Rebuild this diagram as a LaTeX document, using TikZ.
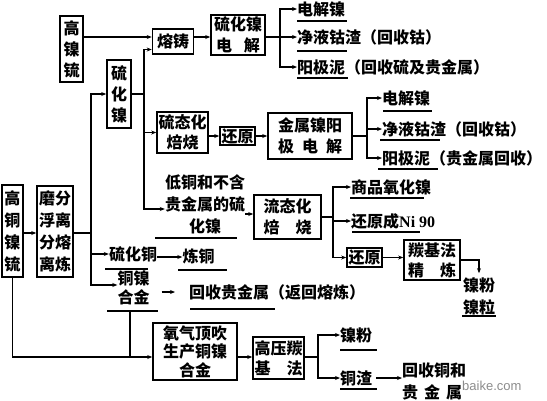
\documentclass[tikz,border=0pt]{standalone}
\usepackage{fontspec}
\setmainfont{Noto Sans CJK SC}
\newfontfamily\lat{Liberation Serif}
\newfontfamily\wmfont{Liberation Sans}
\usetikzlibrary{arrows.meta}
\begin{document}
\begin{tikzpicture}[x=1pt,y=-1pt,
  font=\fontsize{16}{21}\selectfont\bfseries,
  bx/.style={draw,line width=1.6pt,inner sep=0pt,align=center},
  ln/.style={line width=1.1pt},
  arr/.style={ln,-{Stealth[length=5pt,width=4pt]}},
  tx/.style={inner sep=0pt,anchor=west},
  ct/.style={inner sep=0pt,align=center},
  ul/.style={line width=1.1pt}]
\useasboundingbox (0,0) rectangle (547,400);

% boxes
\node[bx,minimum width=23pt,minimum height=66pt] (gnl) at (71.5,49) {高\\镍\\锍};
\node[bx,minimum width=41pt,minimum height=25pt] (rz) at (173,41.5) {熔铸};
\node[bx,minimum width=54pt,minimum height=40pt] (lhd) at (238,35) {硫化镍\\电\hspace{12pt}解};
\node[bx,minimum width=24pt,minimum height=68pt] (lhn) at (119,94) {硫\\化\\镍};
\node[bx,minimum width=21pt,minimum height=92pt,font=\fontsize{16}{22}\selectfont\bfseries] (gtnl) at (12.5,231) {高\\铜\\镍\\锍};
\node[bx,minimum width=36pt,minimum height=91pt,font=\fontsize{16}{22}\selectfont\bfseries] (mf) at (55,231.5) {磨分\\浮离\\分熔\\离炼};
\node[bx,minimum width=51pt,minimum height=41pt,font=\fontsize{16}{20}\selectfont\bfseries] (stj) at (182.5,132.5) {硫态化\\焙烧};
\node[bx,minimum width=35pt,minimum height=18pt] (hy1) at (237.5,136) {还原};
\node[bx,minimum width=84pt,minimum height=46pt] (jsn) at (310,136) {金属镍阳\\极\hspace{8pt}电\hspace{8pt}解};
\node[bx,minimum width=67pt,minimum height=44pt] (lth) at (287.5,217) {流态化\\焙\hspace{16pt}烧};
\node[bx,minimum width=35pt,minimum height=19pt] (hy2) at (364.5,257.5) {还原};
\node[bx,minimum width=56pt,minimum height=40pt,font=\fontsize{16}{20}\selectfont\bfseries] (tj) at (432,260) {羰基法\\精\hspace{16pt}炼};
\node[bx,minimum width=84pt,minimum height=57pt,font=\fontsize{16}{18.5}\selectfont\bfseries] (yq) at (195,351.5) {氧气顶吹\\生产铜镍\\合金};
\node[bx,minimum width=51pt,minimum height=42pt,font=\fontsize{16}{20}\selectfont\bfseries] (gy) at (278.5,358) {高压羰\\基\hspace{16pt}法};

% text nodes
\node[tx] (t1) at (297,9) {电解镍};
\node[tx] (t2) at (297,37) {净液钴渣（回收钴）};
\node[tx] (t3) at (297,67) {阳极泥（回收硫及贵金属）};
\node[tx] (m1) at (382,98) {电解镍};
\node[tx] (m2) at (382,129) {净液钴渣（回收钴）};
\node[tx] (m3) at (382,158) {阳极泥（贵金属回收）};
\node[ct,font=\fontsize{16}{22}\selectfont\bfseries] (dt) at (205,204) {低铜和不含\\贵金属的硫\\化镍};
\node[ct] (lht) at (133,254) {硫化铜};
\node[ct] (lt) at (198.5,256) {炼铜};
\node[ct,font=\fontsize{16}{19}\selectfont\bfseries] (tn) at (133.5,287.5) {铜镍\\合金};
\node[tx] (hs) at (189,292) {回收贵金属（返回熔炼）};
\node[tx] (s1) at (351,187) {商品氧化镍};
\node[tx] (s2) at (351,221) {还原成{\lat\bfseries Ni 90}};
\node[ct,font=\fontsize{16}{22}\selectfont\bfseries] (np) at (479,296) {镍粉\\镍粒};
\node[tx] (b1) at (340,335) {镍粉};
\node[tx] (b2) at (340,378) {铜渣};
\node[tx,align=left,font=\fontsize{16}{22}\selectfont\bfseries] (hst) at (402,381) {回收铜和\\贵\hspace{6pt}金\hspace{6pt}属};
\node[tx,text=black!45,font=\wmfont\fontsize{13}{13}\selectfont] (wm) at (462,386) {baike.com};

% junction coordinates
\coordinate (j1) at (280,37);
\coordinate (j2) at (367,136);
\coordinate (j3) at (333,217);
\coordinate (j4) at (318,357);
\coordinate (sp) at (91,233);
\coordinate (sp2) at (144,94);

% top
\draw[arr] (gnl.east |- j1) -- (rz.west |- j1);
\draw[arr] (rz.east |- j1) -- (lhd.west |- j1);
\draw[ln] (lhd.east |- j1) -- (j1);
\draw[arr] (j1) |- (t1.west);
\draw[arr] (j1) -- (t2.west);
\draw[arr] (j1) |- (t3.west);

% second spine
\draw[ln] (lhn.east) -- (sp2);
\draw[arr] (sp2) |- ([yshift=-8pt]rz.west);
\draw[arr] (sp2) |- (stj.west);
\draw[arr] (sp2) |- ([yshift=-5pt]dt.west);

% middle
\draw[arr] (stj.east |- hy1.west) -- (hy1.west);
\draw[arr] (hy1.east) -- (jsn.west);
\draw[ln] (jsn.east) -- (j2);
\draw[arr] (j2) |- (m1.west);
\draw[arr] (j2) |- (m2.west);
\draw[arr] (j2) |- (m3.west);

% fluid roasting
\draw[arr] (dt.east |- 0,214) -- (lth.west |- 0,214);
\draw[ln] (lth.east) -- (j3);
\draw[arr] (j3) |- (s1.west);
\draw[arr] (j3) |- (s2.west);
\draw[arr] (j3) |- (hy2.west);
\draw[arr] (hy2.east) -- (tj.west |- hy2.east);
\draw[arr] (tj.east |- 0,260) -| ([yshift=4pt]np.north);

% left spine
\draw[arr] (gtnl.east |- sp) -- (mf.west |- sp);
\draw[ln] (mf.east |- sp) -- (sp);
\draw[arr] (sp) |- (lhn.west);
\draw[arr] (sp) |- (lht.west);
\draw[arr] (sp) |- ([yshift=2.5pt]tn.west);
\draw[arr] (lht.east |- 0,257) -- (lt.west |- 0,257);
\draw[arr] ([xshift=12pt]tn.east |- hs.west) -- ([xshift=-14pt]hs.west);

% bottom
\draw[arr] (gtnl.south) |- (yq.west |- j4);
\draw[ln] (130,311) -- (130,357);
\draw[arr] (yq.east |- j4) -- (gy.west |- j4);
\draw[ln] (gy.east |- j4) -- (j4);
\draw[arr] (j4) |- (b1.west);
\draw[arr] (j4) |- (b2.west);
\draw[arr] ([xshift=4pt]b2.east) -- (hst.west |- b2.east);

% underlines
\draw[ul] (297,21) -- (347,21);
\draw[ul] (297,51) -- (347,51);
\draw[ul] (297,78) -- (348,78);
\draw[ul] (383,111) -- (432,111);
\draw[ul] (380,140) -- (440,140);
\draw[ul] (378,169) -- (438,169);
\draw[ul] (155,238) -- (237,238);
\draw[ul] (105,269) -- (148,269);
\draw[ul] (178,270) -- (227,270);
\draw[ul] (107,311) -- (158,311);
\draw[ul] (190,309) -- (275,309);
\draw[ul] (350,198) -- (424,198);
\draw[ul] (352,232) -- (420,232);
\draw[ul] (462,316) -- (496,316);
\draw[ul] (340,350) -- (377,350);
\draw[ul] (340,389) -- (377,389);
\end{tikzpicture}
\end{document}
